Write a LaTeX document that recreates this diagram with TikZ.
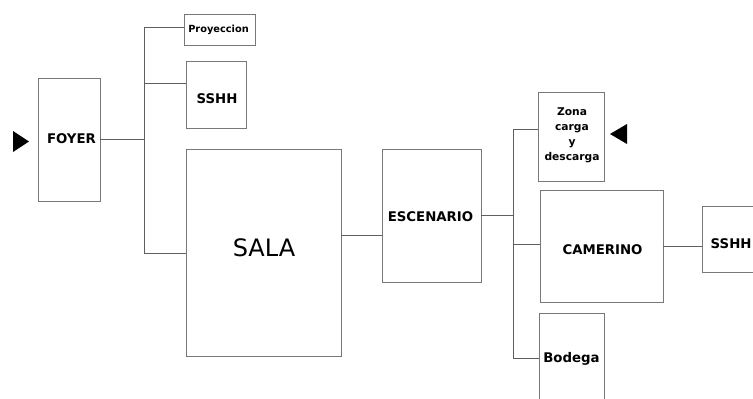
\documentclass[tikz,border=0pt]{standalone}
\usepackage{fontspec}
\setmainfont{DejaVu Sans}
\definecolor{boxgray}{RGB}{120,120,120}
\definecolor{linegray}{RGB}{95,95,95}
\tikzset{
  room/.style={draw=boxgray, line width=0.9pt, fill=none, inner sep=0pt, minimum width=#1},
  lbl/.style={font=\bfseries\fontsize{13.3}{15}\selectfont, inner sep=0pt},
  conn/.style={draw=linegray, line width=0.8pt},
  entry/.style={fill=black, draw=none}
}
\begin{document}
\begin{tikzpicture}[x=1pt,y=-1pt]
\useasboundingbox (0,0) rectangle (753,399);
\clip (0,0) rectangle (753,399);
% rooms
\node[room=71pt, minimum height=31pt] (proy) at (219.5,29.5) {};
\node[lbl, font=\bfseries\fontsize{9.8}{11}\selectfont] (proyl) at (218.5,30) {Proyeccion};
\node[room=60pt, minimum height=67pt] (sshhA) at (216,94.5) {};
\node[lbl] (sshhAl) at (217,99) {SSHH};
\node[room=62pt, minimum height=123pt] (foyer) at (69,139.5) {};
\node[lbl] (foyerl) at (71.5,139) {FOYER};
\node[room=155pt, minimum height=207pt] (sala) at (263.5,252.5) {};
\node[font=\fontsize{24}{28}\selectfont, inner sep=0pt] (salal) at (264,248) {SALA};
\node[room=99pt, minimum height=133pt] (esc) at (431.5,215.5) {};
\node[lbl] (escl) at (430.5,217) {ESCENARIO};
\node[room=66pt, minimum height=89pt] (zona) at (571,136.5) {};
\node[font=\bfseries\fontsize{10.7}{15}\selectfont, align=center, inner sep=0pt] (zonal) at (572,135.5) {Zona\\carga\\y\\descarga};
\node[room=123pt, minimum height=112pt] (cam) at (601.5,246) {};
\node[lbl] (caml) at (602.5,250) {CAMERINO};
\node[room=78pt, minimum height=66pt] (sshhB) at (741,239) {};
\node[lbl, anchor=west] (sshhBl) at (710.5,243.5) {SSHH};
\node[room=65pt, minimum height=110pt] (bod) at (571.5,368) {};
\node[lbl] (bodl) at (571.5,358.5) {Bodega};
% entrances
\fill[entry] (13,131) -- (13,152) -- (29,141.5) -- cycle;
\fill[entry] (627,124) -- (627,144) -- (610,134) -- cycle;
% connectors left
\coordinate (t1) at (144,27);
\coordinate (t2) at (144,83);
\coordinate (t4) at (144,253);
\draw[conn] (t1) -- (t4);
\draw[conn] (t1) -- (t1 -| proy.west);
\draw[conn] (t2) -- (t2 -| sshhA.west);
\draw[conn] (foyer.east) -- (foyer.east -| t1);
\draw[conn] (t4) -- (t4 -| sala.west);
% sala - escenario
\coordinate (s1) at (341,235);
\draw[conn] (s1 -| sala.east) -- (s1 -| esc.west);
% right trunk
\coordinate (r1) at (513,129);
\coordinate (r2) at (513,244);
\coordinate (r3) at (513,358);
\draw[conn] (r1) -- (r3);
\draw[conn] (esc.east) -- (esc.east -| r1);
\draw[conn] (r1) -- (r1 -| zona.west);
\draw[conn] (r2) -- (r2 -| cam.west);
\draw[conn] (r3) -- (r3 -| bod.west);
\draw[conn] (cam.east) -- (cam.east -| sshhB.west);
\end{tikzpicture}
\end{document}
